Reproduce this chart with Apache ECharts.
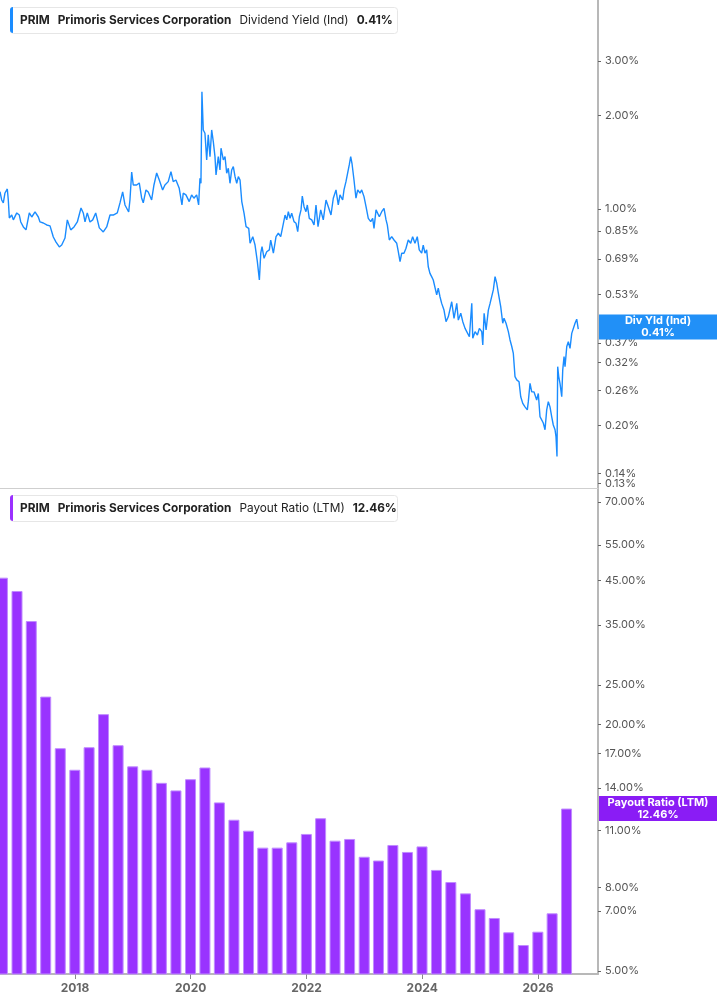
<!DOCTYPE html>
<html>
<head>
<meta charset="utf-8">
<title>PRIM Dividend Yield &amp; Payout Ratio</title>
<script src="https://cdn.jsdelivr.net/npm/echarts@6.0.0/dist/echarts.min.js"></script>
<style>
  html, body { margin: 0; padding: 0; background: #fff; }
  #chart { width: 717px; height: 1005px; }
</style>
</head>
<body>
<div id="chart"></div>
<script>
const yieldTicks = [0.13, 0.14, 0.2, 0.26, 0.32, 0.37, 0.53, 0.69, 0.85, 1, 2, 3];
const payoutTicks = [5, 7, 8, 11, 14, 17, 20, 25, 35, 45, 55, 70];
const yearTicks = [2018, 2020, 2022, 2024, 2026];

// dividend yield (%) - [decimal year, value]
const divYield = [
  [2016.704, 1.137], [2016.733, 1.069], [2016.761, 1.046], [2016.790, 1.126], [2016.830, 1.160],
  [2016.847, 1.069], [2016.865, 0.935], [2016.906, 0.956], [2016.934, 0.922], [2016.993, 0.971],
  [2017.037, 0.956], [2017.062, 0.908], [2017.107, 0.875], [2017.153, 0.856], [2017.210, 0.971],
  [2017.252, 0.942], [2017.309, 0.978], [2017.366, 0.942], [2017.395, 0.908], [2017.452, 0.901],
  [2017.511, 0.888], [2017.568, 0.882], [2017.625, 0.812], [2017.672, 0.782], [2017.729, 0.754],
  [2017.770, 0.765], [2017.827, 0.806], [2017.867, 0.922], [2017.926, 0.856], [2017.983, 0.875],
  [2018.040, 0.908], [2018.104, 1.007], [2018.143, 0.971], [2018.173, 0.908], [2018.212, 0.971],
  [2018.259, 0.908], [2018.306, 0.922], [2018.358, 0.971], [2018.420, 0.869], [2018.489, 0.843],
  [2018.548, 0.875], [2018.605, 0.956], [2018.662, 0.956], [2018.731, 0.971], [2018.778, 1.046],
  [2018.824, 1.135], [2018.864, 1.030], [2018.893, 1.015], [2018.928, 0.978], [2018.950, 1.069],
  [2018.980, 1.316], [2019.007, 1.195], [2019.066, 1.195], [2019.111, 1.213], [2019.152, 1.085],
  [2019.180, 1.046], [2019.227, 1.152], [2019.266, 1.135], [2019.325, 1.069], [2019.365, 1.195],
  [2019.412, 1.306], [2019.457, 1.240], [2019.515, 1.152], [2019.555, 1.195], [2019.612, 1.225],
  [2019.659, 1.319], [2019.698, 1.225], [2019.745, 1.240], [2019.802, 1.166], [2019.849, 1.030],
  [2019.871, 1.124], [2019.918, 1.110], [2019.975, 1.056], [2020.016, 1.110], [2020.056, 1.083],
  [2020.103, 1.110], [2020.137, 1.030], [2020.160, 1.256], [2020.177, 1.210], [2020.194, 2.389],
  [2020.206, 2.361], [2020.217, 1.798], [2020.246, 1.755], [2020.276, 1.439], [2020.303, 1.733],
  [2020.333, 1.475], [2020.362, 1.798], [2020.390, 1.649], [2020.419, 1.475], [2020.437, 1.287],
  [2020.476, 1.475], [2020.505, 1.336], [2020.523, 1.570], [2020.563, 1.439], [2020.592, 1.475],
  [2020.621, 1.304], [2020.649, 1.353], [2020.678, 1.210], [2020.707, 1.336], [2020.735, 1.369],
  [2020.765, 1.271], [2020.794, 1.210], [2020.822, 1.271], [2020.851, 1.240], [2020.881, 1.056],
  [2020.920, 0.969], [2020.955, 0.877], [2021.001, 0.866], [2021.024, 0.775], [2021.071, 0.814],
  [2021.110, 0.765], [2021.150, 0.676], [2021.185, 0.590], [2021.209, 0.720], [2021.231, 0.756],
  [2021.266, 0.693], [2021.312, 0.728], [2021.357, 0.738], [2021.381, 0.794], [2021.427, 0.720],
  [2021.473, 0.814], [2021.513, 0.835], [2021.554, 0.814], [2021.589, 0.877], [2021.629, 0.956],
  [2021.658, 0.922], [2021.686, 0.980], [2021.715, 0.933], [2021.744, 0.969], [2021.784, 0.910],
  [2021.819, 0.899], [2021.848, 0.845], [2021.876, 0.944], [2021.905, 0.993], [2021.927, 1.101],
  [2021.957, 1.017], [2021.991, 0.980], [2022.014, 1.030], [2022.048, 0.933], [2022.090, 0.922],
  [2022.130, 0.888], [2022.164, 1.030], [2022.199, 0.877], [2022.245, 0.993], [2022.290, 0.922],
  [2022.337, 1.069], [2022.377, 1.017], [2022.423, 0.956], [2022.463, 1.083], [2022.510, 1.152],
  [2022.549, 1.030], [2022.579, 1.110], [2022.625, 1.069], [2022.648, 1.152], [2022.682, 1.225],
  [2022.705, 1.210], [2022.739, 1.387], [2022.764, 1.475], [2022.786, 1.404], [2022.821, 1.240],
  [2022.855, 1.083], [2022.885, 1.152], [2022.925, 1.124], [2022.954, 1.152], [2022.994, 1.096],
  [2023.029, 1.017], [2023.068, 0.933], [2023.110, 0.910], [2023.144, 0.933], [2023.167, 0.866],
  [2023.202, 0.993], [2023.236, 1.005], [2023.259, 0.944], [2023.300, 0.980], [2023.340, 1.005],
  [2023.375, 0.922], [2023.397, 0.888], [2023.432, 0.794], [2023.473, 0.814], [2023.513, 0.794],
  [2023.560, 0.775], [2023.587, 0.728], [2023.617, 0.676], [2023.646, 0.720], [2023.685, 0.720],
  [2023.720, 0.747], [2023.759, 0.794], [2023.801, 0.775], [2023.835, 0.814], [2023.875, 0.775],
  [2023.915, 0.814], [2023.949, 0.738], [2023.991, 0.720], [2024.018, 0.765], [2024.048, 0.720],
  [2024.077, 0.738], [2024.105, 0.651], [2024.134, 0.620], [2024.163, 0.605], [2024.191, 0.590],
  [2024.220, 0.583], [2024.250, 0.528], [2024.277, 0.555], [2024.307, 0.521], [2024.336, 0.496],
  [2024.376, 0.472], [2024.411, 0.433], [2024.450, 0.449], [2024.509, 0.502], [2024.549, 0.444],
  [2024.596, 0.496], [2024.623, 0.438], [2024.665, 0.461], [2024.700, 0.433], [2024.739, 0.412],
  [2024.769, 0.417], [2024.814, 0.387], [2024.855, 0.496], [2024.872, 0.383], [2024.912, 0.402],
  [2024.952, 0.392], [2024.986, 0.412], [2025.027, 0.402], [2025.045, 0.364], [2025.068, 0.461],
  [2025.102, 0.407], [2025.141, 0.472], [2025.171, 0.496], [2025.200, 0.502], [2025.227, 0.548],
  [2025.257, 0.605], [2025.286, 0.576], [2025.314, 0.535], [2025.355, 0.484], [2025.390, 0.428],
  [2025.412, 0.444], [2025.447, 0.428], [2025.487, 0.402], [2025.516, 0.378], [2025.546, 0.360],
  [2025.573, 0.342], [2025.602, 0.288], [2025.632, 0.281], [2025.672, 0.277], [2025.701, 0.248],
  [2025.736, 0.236], [2025.775, 0.230], [2025.815, 0.225], [2025.832, 0.239], [2025.862, 0.274],
  [2025.891, 0.257], [2025.931, 0.257], [2025.977, 0.242], [2026.005, 0.254], [2026.034, 0.214],
  [2026.064, 0.217], [2026.091, 0.204], [2026.121, 0.194], [2026.150, 0.225], [2026.178, 0.239],
  [2026.207, 0.230], [2026.236, 0.214], [2026.264, 0.201], [2026.294, 0.194], [2026.311, 0.184],
  [2026.328, 0.159], [2026.340, 0.310], [2026.358, 0.288], [2026.380, 0.274], [2026.410, 0.248],
  [2026.427, 0.302], [2026.450, 0.334], [2026.467, 0.310], [2026.497, 0.360], [2026.524, 0.373],
  [2026.553, 0.355], [2026.583, 0.397], [2026.610, 0.392], [2026.640, 0.428], [2026.669, 0.441],
  [2026.696, 0.410]
];

// payout ratio LTM (%) by quarter end
const quarters = [
  '2016-09-30', '2016-12-31', '2017-03-31', '2017-06-30', '2017-09-30', '2017-12-31',
  '2018-03-31', '2018-06-30', '2018-09-30', '2018-12-31', '2019-03-31', '2019-06-30',
  '2019-09-30', '2019-12-31', '2020-03-31', '2020-06-30', '2020-09-30', '2020-12-31',
  '2021-03-31', '2021-06-30', '2021-09-30', '2021-12-31', '2022-03-31', '2022-06-30',
  '2022-09-30', '2022-12-31', '2023-03-31', '2023-06-30', '2023-09-30', '2023-12-31',
  '2024-03-31', '2024-06-30', '2024-09-30', '2024-12-31', '2025-03-31', '2025-06-30',
  '2025-09-30', '2025-12-31', '2026-03-31', '2026-06-30'
];
const payout = [
  45.7, 42.4, 35.8, 23.4, 17.5, 15.5, 17.6, 21.2, 17.8, 15.8,
  15.5, 14.4, 13.8, 14.7, 15.7, 12.9, 11.7, 11.0, 10.0, 10.0,
  10.3, 10.8, 11.8, 10.4, 10.5, 9.5, 9.3, 10.15, 9.76, 10.07,
  8.82, 8.24, 7.73, 7.07, 6.73, 6.21, 5.78, 6.23, 6.91, 12.46
];

const lastYield = divYield[divYield.length - 1][1];
const lastPayout = payout[payout.length - 1];

const BLUE = '#1a8cff';
const BLUE_TAG = '#2190f7';
const PURPLE = '#9933ff';
const PURPLE_TAG = '#8a1cf5';
const FONT = 'Inter, "Noto Sans", sans-serif';

const yearToTime = (y) => {
  const yr = Math.floor(y);
  const start = Date.UTC(yr, 0, 1);
  return start + (y - yr) * (Date.UTC(yr + 1, 0, 1) - start);
};
const dateToTime = (s) => {
  const [y, m, d] = s.split('-').map(Number);
  return Date.UTC(y, m - 1, d);
};

const xMin = yearToTime(2016.704);
const xMax = yearToTime(2027.037);
const yearTimes = yearTicks.map((y) => Date.UTC(y, 0, 1));

const chart = echarts.init(document.getElementById('chart'));

const axisLabelStyle = {
  formatter: (v) => Number(v).toFixed(2) + '%',
  color: '#555',
  fontSize: 11,
  fontFamily: FONT,
  margin: 7,
  hideOverlap: false
};

const logAxis = (gridIndex, min, max, ticks, labels) => ({
  type: 'log',
  logBase: 10,
  gridIndex,
  position: 'right',
  min,
  max,
  axisLine: { show: true, lineStyle: { color: '#b8b8b8', width: 2 } },
  axisTick: { show: true, customValues: ticks, length: 3, lineStyle: { color: '#666' } },
  axisLabel: { ...axisLabelStyle, customValues: labels },
  splitLine: { show: false },
  minorTick: { show: false }
});

// the lowest yield label sits very close to its neighbour; echarts drops one of
// the pair, so it gets its own label-only axis on the same grid
const labelOnlyAxis = (gridIndex, min, max, labels) => ({
  type: 'log',
  logBase: 10,
  gridIndex,
  position: 'right',
  min,
  max,
  axisLine: { show: false },
  axisTick: { show: false },
  axisLabel: { ...axisLabelStyle, customValues: labels, showMinLabel: true },
  splitLine: { show: false },
  minorTick: { show: false }
});

const option = {
  animation: false,
  grid: [
    { left: 0, right: 119, top: 0, height: 488 },
    { left: 0, right: 119, top: 488, height: 486 }
  ],
  xAxis: [
    {
      type: 'value', gridIndex: 0, min: xMin, max: xMax,
      axisLine: { show: true, lineStyle: { color: '#cfcfcf', width: 1 } },
      axisTick: { show: false },
      axisLabel: { show: false },
      splitLine: { show: false }
    },
    {
      type: 'value', gridIndex: 1, min: xMin, max: xMax,
      axisLine: { show: true, lineStyle: { color: '#b8b8b8', width: 2 } },
      axisTick: { show: true, customValues: yearTimes, length: 5, lineStyle: { color: '#888' } },
      axisLabel: {
        customValues: yearTimes,
        formatter: (v) => String(new Date(v).getUTCFullYear()),
        color: '#666',
        fontWeight: 'bold',
        fontSize: 12,
        fontFamily: FONT,
        margin: 8
      },
      splitLine: { show: false }
    }
  ],
  yAxis: [
    logAxis(0, 0.1259, 4.72, yieldTicks, yieldTicks.slice(1)),
    logAxis(1, 4.91, 75.7, payoutTicks, payoutTicks),
    labelOnlyAxis(0, 0.1259, 4.72, yieldTicks.slice(0, 1))
  ],
  series: [
    {
      name: 'Dividend Yield (Ind)',
      type: 'line',
      xAxisIndex: 0,
      yAxisIndex: 0,
      showSymbol: false,
      data: divYield.map(([y, v]) => [yearToTime(y), v]),
      lineStyle: { color: BLUE, width: 1.4 },
      itemStyle: { color: BLUE }
    },
    {
      name: 'Payout Ratio (LTM)',
      type: 'bar',
      xAxisIndex: 1,
      yAxisIndex: 1,
      barWidth: 11,
      data: quarters.map((q, i) => [dateToTime(q), payout[i]]),
      itemStyle: { color: PURPLE, borderColor: '#c08cff', borderWidth: 1 }
    }
  ]
};

chart.setOption(option);

// legend boxes and value tags on the right axis
const legendBox = (top, accent, label, value) => [
  {
    type: 'rect', left: 10, top, z: 100,
    shape: { width: 387, height: 26, r: 3 },
    style: { fill: '#fff', stroke: '#e6e6e6', lineWidth: 1 }
  },
  {
    type: 'rect', left: 10, top, z: 101,
    shape: { width: 3, height: 26, r: [3, 0, 0, 3] },
    style: { fill: accent }
  },
  {
    type: 'text', x: 20, y: top + 13, z: 102,
    style: {
      text: `{b|PRIM}{g| }{b|Primoris Services Corporation}{g| }{n|${label}}{g| }{b|${value}}`,
      verticalAlign: 'middle',
      rich: {
        b: { fill: '#222', fontFamily: FONT, fontSize: 11.8, fontWeight: 'bold' },
        n: { fill: '#222', fontFamily: FONT, fontSize: 11.8, fontWeight: 'normal' },
        g: { width: 8, fontSize: 11.8 }
      }
    }
  }
];

const valueTag = (y, color, title, value) => [
  {
    type: 'rect', left: 599, top: y - 12.5, z: 100,
    shape: { width: 118, height: 25 },
    style: { fill: color }
  },
  {
    type: 'text', z: 101, x: 658, y,
    style: {
      text: `${title}\n${value}`,
      fill: '#fff',
      font: `bold 11px ${FONT}`,
      align: 'center',
      verticalAlign: 'middle',
      lineHeight: 12
    }
  }
];

const yTop = chart.convertToPixel({ yAxisIndex: 0 }, lastYield);
const yBottom = chart.convertToPixel({ yAxisIndex: 1 }, lastPayout);

chart.setOption({
  graphic: [
    ...legendBox(7, BLUE, 'Dividend Yield (Ind)', lastYield.toFixed(2) + '%'),
    ...legendBox(495, '#9b30ff', 'Payout Ratio (LTM)', lastPayout.toFixed(2) + '%'),
    ...valueTag(yTop - 2, BLUE_TAG, 'Div Yld (Ind)', lastYield.toFixed(2) + '%'),
    ...valueTag(yBottom, PURPLE_TAG, 'Payout Ratio (LTM)', lastPayout.toFixed(2) + '%')
  ]
});
</script>
</body>
</html>
